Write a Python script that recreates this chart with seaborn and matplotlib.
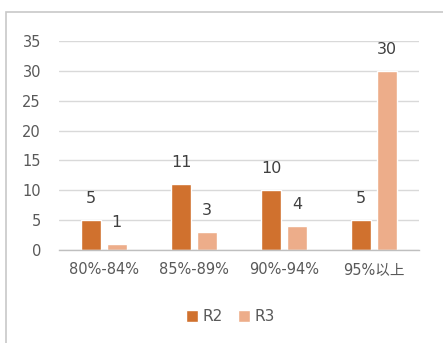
import matplotlib
matplotlib.use("Agg")
import matplotlib.pyplot as plt
import seaborn as sns
import pandas as pd
from matplotlib.patches import Rectangle

categories = ["80%-84%", "85%-89%", "90%-94%", "95%以上"]
r2_values = [5, 11, 10, 5]
r3_values = [1, 3, 4, 30]
series_names = ["R2", "R3"]
y_ticks = [0, 5, 10, 15, 20, 25, 30, 35]

df = pd.DataFrame({
    "range": categories * 2,
    "count": r2_values + r3_values,
    "series": [series_names[0]] * len(categories) + [series_names[1]] * len(categories),
})

sns.set_theme(style="white")
plt.rcParams["font.family"] = ["DejaVu Sans", "Noto Sans CJK SC"]

text_color = "#595959"
palette = {"R2": "#D0712E", "R3": "#EDAD8A"}

fig = plt.figure(figsize=(4.43, 3.43), dpi=100)
ax = fig.add_axes([59 / 443, 1 - 250 / 343, 360 / 443, 209 / 343])

sns.barplot(data=df, x="range", y="count", hue="series", palette=palette,
            width=0.57, gap=0.2, saturation=1, ax=ax, legend=True)

ax.set_ylim(0, 35)
ax.set_yticks(y_ticks)
ax.set_xlim(-0.5, len(categories) - 0.5)
ax.grid(axis="y", color="#D9D9D9", linewidth=1)
ax.set_axisbelow(True)
for side in ["top", "right", "left"]:
    ax.spines[side].set_visible(False)
ax.spines["bottom"].set_color("#BFBFBF")
ax.spines["bottom"].set_linewidth(1)
ax.tick_params(axis="y", length=0, pad=13, labelsize=10.5, labelcolor=text_color)
ax.tick_params(axis="x", length=0, pad=9, labelsize=10.5, labelcolor=text_color)
ax.set_xlabel("")
ax.set_ylabel("")

for container in ax.containers:
    ax.bar_label(container, fmt="%d", padding=10, fontsize=11.5, color="#404040")

handles, labels = ax.get_legend_handles_labels()
ax.legend_.remove()
fig.legend(handles, labels, loc="center", bbox_to_anchor=(0.52, 0.076), ncol=2,
           frameon=False, fontsize=11, handlelength=0.8, handleheight=0.8,
           handletextpad=0.3, columnspacing=1.0, labelcolor=text_color)

# chart frame
fig.patches.append(Rectangle((6 / 443, -0.1), 1.2, 1 - 12 / 343 + 0.1,
                             transform=fig.transFigure, fill=False,
                             edgecolor="#C8C8C8", linewidth=1.2))

fig.savefig("out.png", dpi=100)
